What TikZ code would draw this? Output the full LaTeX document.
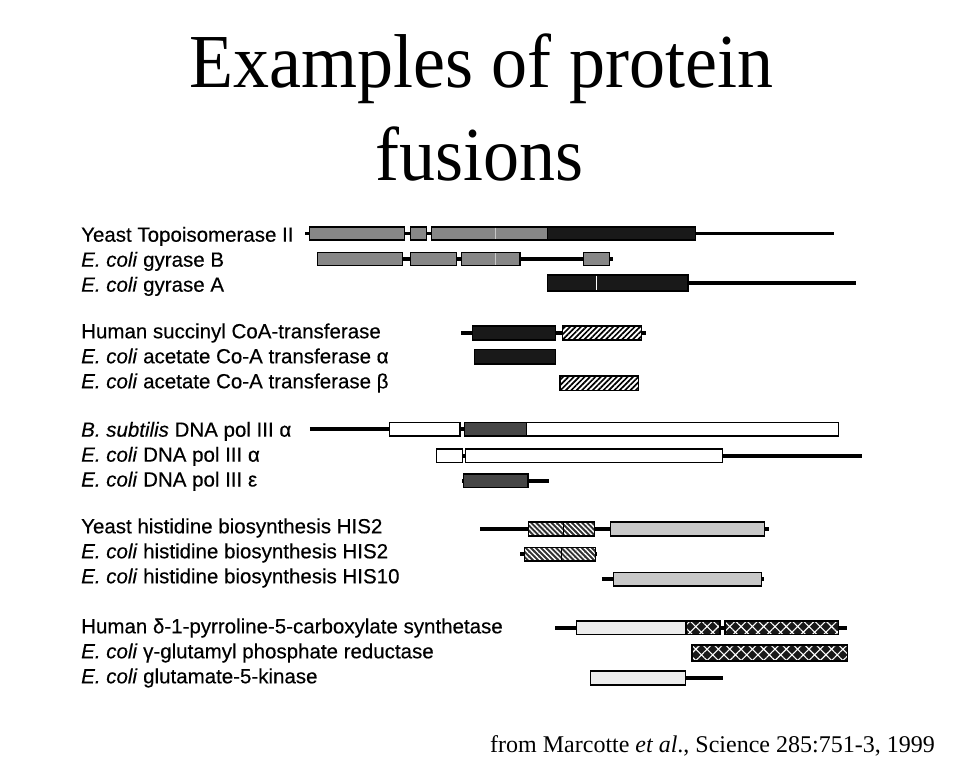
\documentclass[tikz,border=0pt]{standalone}
\usepackage{fontspec}
\setmainfont{Liberation Sans}[FakeBold=0.35]
\newfontfamily\titlefont{Liberation Serif}
\usetikzlibrary{patterns,patterns.meta}
\definecolor{pgray}{RGB}{135,135,135}
\definecolor{pblack}{RGB}{25,25,25}
\definecolor{pdark}{RGB}{70,70,70}
\definecolor{plight}{RGB}{200,200,200}
\definecolor{ppale}{RGB}{236,236,236}
\definecolor{phatch}{RGB}{50,50,50}
\tikzset{
  bb/.style={line width=3.6pt, line cap=butt, draw=black},
  bx/.style={draw=black, line width=1.1pt},
  graybox/.style={bx, fill=pgray},
  blackbox/.style={bx, fill=pblack},
  darkbox/.style={bx, fill=pdark},
  whitebox/.style={bx, fill=white},
  lightbox/.style={bx, fill=plight},
  palebox/.style={bx, fill=ppale},
  nehatch/.style={bx, preaction={fill=white}, pattern={Lines[angle=45,distance=3.8pt,line width=1.7pt]}, pattern color=black},
  nwhatch/.style={bx, preaction={fill=phatch}, pattern={Lines[angle=-45,distance=3.6pt,line width=1.4pt]}, pattern color=white},
  xhatch/.style={bx, preaction={fill=pblack}, pattern={Hatch[angle=45,distance=8pt,line width=1.1pt]}, pattern color=white},
  lbl/.style={anchor=base west, inner sep=0pt, font=\fontsize{20.5}{24}\selectfont},
}
\begin{document}
\begin{tikzpicture}[x=1pt,y=-1pt]
\useasboundingbox[fill=white] (0,0) rectangle (960,768);
% title
\node[anchor=base, inner sep=0pt] (t1) at (481.5,87) {\titlefont\fontsize{72}{80}\selectfont\scalebox{1}[1.06]{Examples of protein}};
\node[anchor=base, inner sep=0pt] (t2) at (480,180) {\titlefont\fontsize{72}{80}\selectfont\scalebox{1}[1.06]{fusions}};
% labels
\node[lbl] (l1) at (81,241.7) {Yeast Topoisomerase II};
\node[lbl] (l2) at (81,266.7) {\textit{E. coli} gyrase B};
\node[lbl] (l3) at (81,291.7) {\textit{E. coli} gyrase A};
\node[lbl] (l4) at (81,338.3) {Human succinyl CoA-transferase};
\node[lbl] (l5) at (81,363.3) {\textit{E. coli} acetate Co-A transferase α};
\node[lbl] (l6) at (81,388.3) {\textit{E. coli} acetate Co-A transferase β};
\node[lbl] (l7) at (81,436.7) {\textit{B. subtilis} DNA pol III α};
\node[lbl] (l8) at (81,461.7) {\textit{E. coli} DNA pol III α};
\node[lbl] (l9) at (81,486.5) {\textit{E. coli} DNA pol III ε};
\node[lbl] (l10) at (81,533.3) {Yeast histidine biosynthesis HIS2};
\node[lbl] (l11) at (81,558.3) {\textit{E. coli} histidine biosynthesis HIS2};
\node[lbl] (l12) at (81,583.3) {\textit{E. coli} histidine biosynthesis HIS10};
\node[lbl] (l13) at (81,633.3) {Human δ-1-pyrroline-5-carboxylate synthetase};
\node[lbl] (l14) at (81,658.3) {\textit{E. coli} γ-glutamyl phosphate reductase};
\node[lbl] (l15) at (81,683.3) {\textit{E. coli} glutamate-5-kinase};
% footer
\node[anchor=base west, inner sep=0pt] (ref) at (490,752) {\titlefont\fontsize{24}{28}\selectfont from Marcotte \textit{et al}., Science 285:751-3, 1999};

% Row 1: Yeast Topoisomerase II
\draw[bb] (305,233.5) -- (833.8,233.5);
\draw[graybox] (309.1,227) rectangle (404.7,240);
\draw[graybox] (410.9,227) rectangle (426.5,240);
\draw[graybox] (431.6,227) rectangle (547.3,240);
\draw[line width=1pt, draw=plight] (495.3,227.6) -- (495.3,239.4);
\draw[blackbox] (547.3,227) rectangle (695.6,240);
% Row 2: gyrase B
\draw[bb] (317,259) -- (612.7,259);
\draw[graybox] (317.1,252.5) rectangle (402.9,265.5);
\draw[graybox] (410.9,252.5) rectangle (456.4,265.5);
\draw[graybox] (461.1,252.5) rectangle (520,265.5);
\draw[line width=1pt, draw=plight] (495.3,253.1) -- (495.3,264.9);
\draw[graybox] (583.6,252.5) rectangle (609.1,265.5);
% Row 3: gyrase A
\draw[bb] (600,283) -- (855.6,283);
\draw[blackbox] (547.3,275) rectangle (688,291);
\draw[line width=1.4pt, draw=white] (596.4,275.6) -- (596.4,290.4);
% Row 4: human succinyl CoA transferase
\draw[bb] (461.1,333) -- (645.5,333);
\draw[blackbox] (472.7,326) rectangle (555.6,340);
\draw[nehatch] (562.9,326) rectangle (641.1,340);
% Row 5
\draw[blackbox] (474.5,349.5) rectangle (555.6,364);
% Row 6
\draw[nehatch] (560,376) rectangle (638.2,390.5);
% Row 7: B. subtilis pol III alpha
\draw[bb] (309.8,429.2) -- (466,429.2);
\draw[whitebox] (389.8,422.5) rectangle (460,436);
\draw[whitebox] (464.4,422.5) rectangle (838.2,436);
\draw[darkbox] (464.4,422.5) rectangle (526.2,436);
% Row 8: E. coli pol III alpha
\draw[bb] (460,455.7) -- (861.8,455.7);
\draw[whitebox] (436.4,449) rectangle (462.2,462.5);
\draw[whitebox] (465.8,449) rectangle (722.9,462.5);
% Row 9: epsilon
\draw[bb] (462,480.8) -- (549.1,480.8);
\draw[darkbox] (463.6,474) rectangle (528,487.5);
% Row 10: yeast HIS2
\draw[bb] (480,529) -- (769,529);
\draw[nwhatch] (528.4,522) rectangle (563.6,536);
\draw[nwhatch] (563.6,522) rectangle (594.5,536);
\draw[lightbox] (610.9,522) rectangle (764.7,536);
% Row 11: E. coli HIS2
\draw[bb] (520,554.2) -- (597,554.2);
\draw[nwhatch] (524.4,547.5) rectangle (561.1,561);
\draw[nwhatch] (561.1,547.5) rectangle (595.3,561);
% Row 12: HIS10
\draw[bb] (601.8,579.2) -- (763.6,579.2);
\draw[lightbox] (613.5,572.5) rectangle (761.1,586);
% Row 13: human P5CS
\draw[bb] (555,627.7) -- (847.3,627.7);
\draw[palebox] (576.7,621) rectangle (685.3,634.5);
\draw[xhatch] (686.7,621) rectangle (720,634.5);
\draw[xhatch] (725,621) rectangle (838.3,634.5);
% Row 14: gamma-glutamyl phosphate reductase
\draw[xhatch] (692,645) rectangle (847.3,661);
% Row 15: glutamate-5-kinase
\draw[bb] (684,678) -- (723.3,678);
\draw[palebox] (590.7,671) rectangle (685.3,685);
\end{tikzpicture}
\end{document}
